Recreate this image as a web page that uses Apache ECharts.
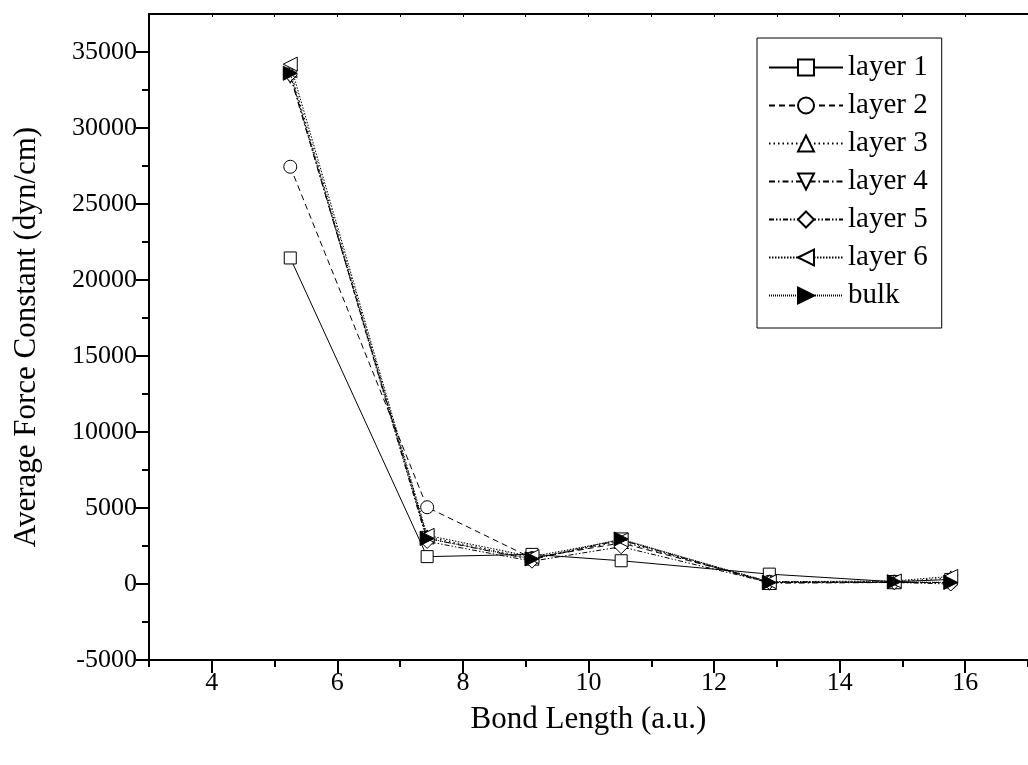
<!DOCTYPE html>
<html>
<head>
<meta charset="utf-8">
<script src="https://cdn.jsdelivr.net/npm/echarts@6/dist/echarts.min.js"></script>
<style>
  html, body { margin: 0; padding: 0; background: #fff; }
  #main { width: 1028px; height: 765px; }
</style>
</head>
<body>
<div id="main"></div>
<script>
// bond length positions (a.u.)
const bondLength = [5.25, 7.43, 9.1, 10.52, 12.88, 14.87, 15.77];

// average force constants (dyn/cm), one array per layer
const layer1 = [21450, 1800, 1950, 1530, 650, 150, 300];
const layer2 = [27450, 5050, 1700, 2700, 150, 100, 100];
const layer3 = [33800, 3100, 1700, 2800, 100, 150, 400];
const layer4 = [33400, 3000, 1600, 2900, 50, 100, 100];
const layer5 = [33500, 2800, 1500, 2450, 100, 100, 0];
const layer6 = [34200, 3200, 1800, 2900, 150, 200, 500];
const bulk   = [33600, 3000, 1650, 2960, 100, 150, 100];

const seriesNames = ['layer 1', 'layer 2', 'layer 3', 'layer 4', 'layer 5', 'layer 6', 'bulk'];
const seriesValues = [layer1, layer2, layer3, layer4, layer5, layer6, bulk];

// tick labels
const xMajorTicks = [4, 6, 8, 10, 12, 14, 16];
const xMinorTicks = [3, 5, 7, 9, 11, 13, 15, 17];
const yMajorTicks = [-5000, 0, 5000, 10000, 15000, 20000, 25000, 30000, 35000];
const yMinorTicks = [-2500, 2500, 7500, 12500, 17500, 22500, 27500, 32500];

const FONT = 'Liberation Serif';

// marker + dash look for each series
const looks = [
    { symbol: 'rect', rotate: 0, fill: '#fff', dash: 'solid' },
    { symbol: 'circle', rotate: 0, fill: '#fff', dash: [6, 4] },
    { symbol: 'triangle', rotate: 0, fill: '#fff', dash: [1.5, 3] },
    { symbol: 'triangle', rotate: 180, fill: '#fff', dash: [6, 3, 1.5, 3] },
    { symbol: 'diamond', rotate: 0, fill: '#fff', dash: [5, 2, 1.5, 2, 1.5, 2] },
    { symbol: 'triangle', rotate: 90, fill: '#fff', dash: [1.5, 1.5] },
    { symbol: 'triangle', rotate: -90, fill: '#000', dash: [1, 1] }
];

let chart = echarts.init(document.getElementById('main'));

let series = seriesNames.map((name, i) => {
    let look = looks[i];
    return {
        name: name,
        type: 'line',
        xAxisIndex: 0,
        yAxisIndex: 0,
        symbol: look.symbol,
        symbolRotate: look.rotate,
        symbolSize: look.symbol === 'rect' ? 12 : (look.symbol === 'circle' ? 13 : 14),
        showAllSymbol: true,
        z: 2 + i,
        lineStyle: { color: '#000', width: 1, type: look.dash },
        itemStyle: { color: look.fill, borderColor: '#000', borderWidth: 1 },
        emphasis: { disabled: true },
        data: bondLength.map((x, j) => [x, seriesValues[i][j]])
    };
});

let axisText = { fontFamily: FONT, fontSize: 26, color: '#000' };

let option = {
    animation: false,
    backgroundColor: '#fff',
    grid: { left: 149, top: 14, right: -3, bottom: 105, containLabel: false },
    legend: {
        data: seriesNames,
        orient: 'vertical',
        left: 757,
        top: 38,
        itemWidth: 74,
        itemHeight: 20,
        itemGap: 9,
        padding: [15, 14, 18, 11],
        borderColor: '#000',
        borderWidth: 1,
        backgroundColor: '#fff',
        textStyle: { fontFamily: FONT, fontSize: 29, color: '#000', lineHeight: 29 }
    },
    xAxis: [
        {
            type: 'value',
            min: 3, max: 17,
            position: 'bottom',
            name: 'Bond Length (a.u.)',
            nameLocation: 'middle',
            nameGap: 44,
            nameTextStyle: { fontFamily: FONT, fontSize: 31, color: '#000' },
            axisLine: { onZero: false, lineStyle: { color: '#000', width: 2 } },
            axisTick: { inside: false, length: 13, customValues: xMajorTicks, lineStyle: { color: '#000', width: 2 } },
            axisLabel: { customValues: xMajorTicks, margin: 10, ...axisText },
            splitLine: { show: false }
        },
        {
            type: 'value',
            min: 3, max: 17,
            position: 'bottom',
            axisLine: { show: false, onZero: false },
            axisTick: { inside: false, length: 7, customValues: xMinorTicks, lineStyle: { color: '#000', width: 2 } },
            axisLabel: { show: false },
            splitLine: { show: false }
        },
        {
            type: 'value',
            min: 3, max: 17,
            position: 'top',
            axisLine: { onZero: false, lineStyle: { color: '#000', width: 2 } },
            axisTick: { inside: true, length: 3, customValues: xMinorTicks.concat(xMajorTicks), lineStyle: { color: '#000', width: 1 } },
            axisLabel: { show: false },
            splitLine: { show: false }
        }
    ],
    yAxis: [
        {
            type: 'value',
            min: -5000, max: 37500,
            interval: 5000,
            position: 'left',
            name: 'Average Force Constant (dyn/cm)',
            nameLocation: 'middle',
            nameGap: 107,
            nameTextStyle: { fontFamily: FONT, fontSize: 31, color: '#000' },
            axisLine: { onZero: false, lineStyle: { color: '#000', width: 2 } },
            axisTick: { inside: false, length: 13, customValues: yMajorTicks, lineStyle: { color: '#000', width: 2 } },
            axisLabel: { customValues: yMajorTicks, margin: 12, formatter: v => String(v), ...axisText },
            splitLine: { show: false }
        },
        {
            type: 'value',
            min: -5000, max: 37500,
            interval: 5000,
            position: 'left',
            axisLine: { show: false, onZero: false },
            axisTick: { inside: false, length: 7, customValues: yMinorTicks, lineStyle: { color: '#000', width: 2 } },
            axisLabel: { show: false },
            splitLine: { show: false }
        }
    ],
    series: series
};

chart.setOption(option);

window.onresize = () => {
    chart.resize();
};
</script>
</body>
</html>
